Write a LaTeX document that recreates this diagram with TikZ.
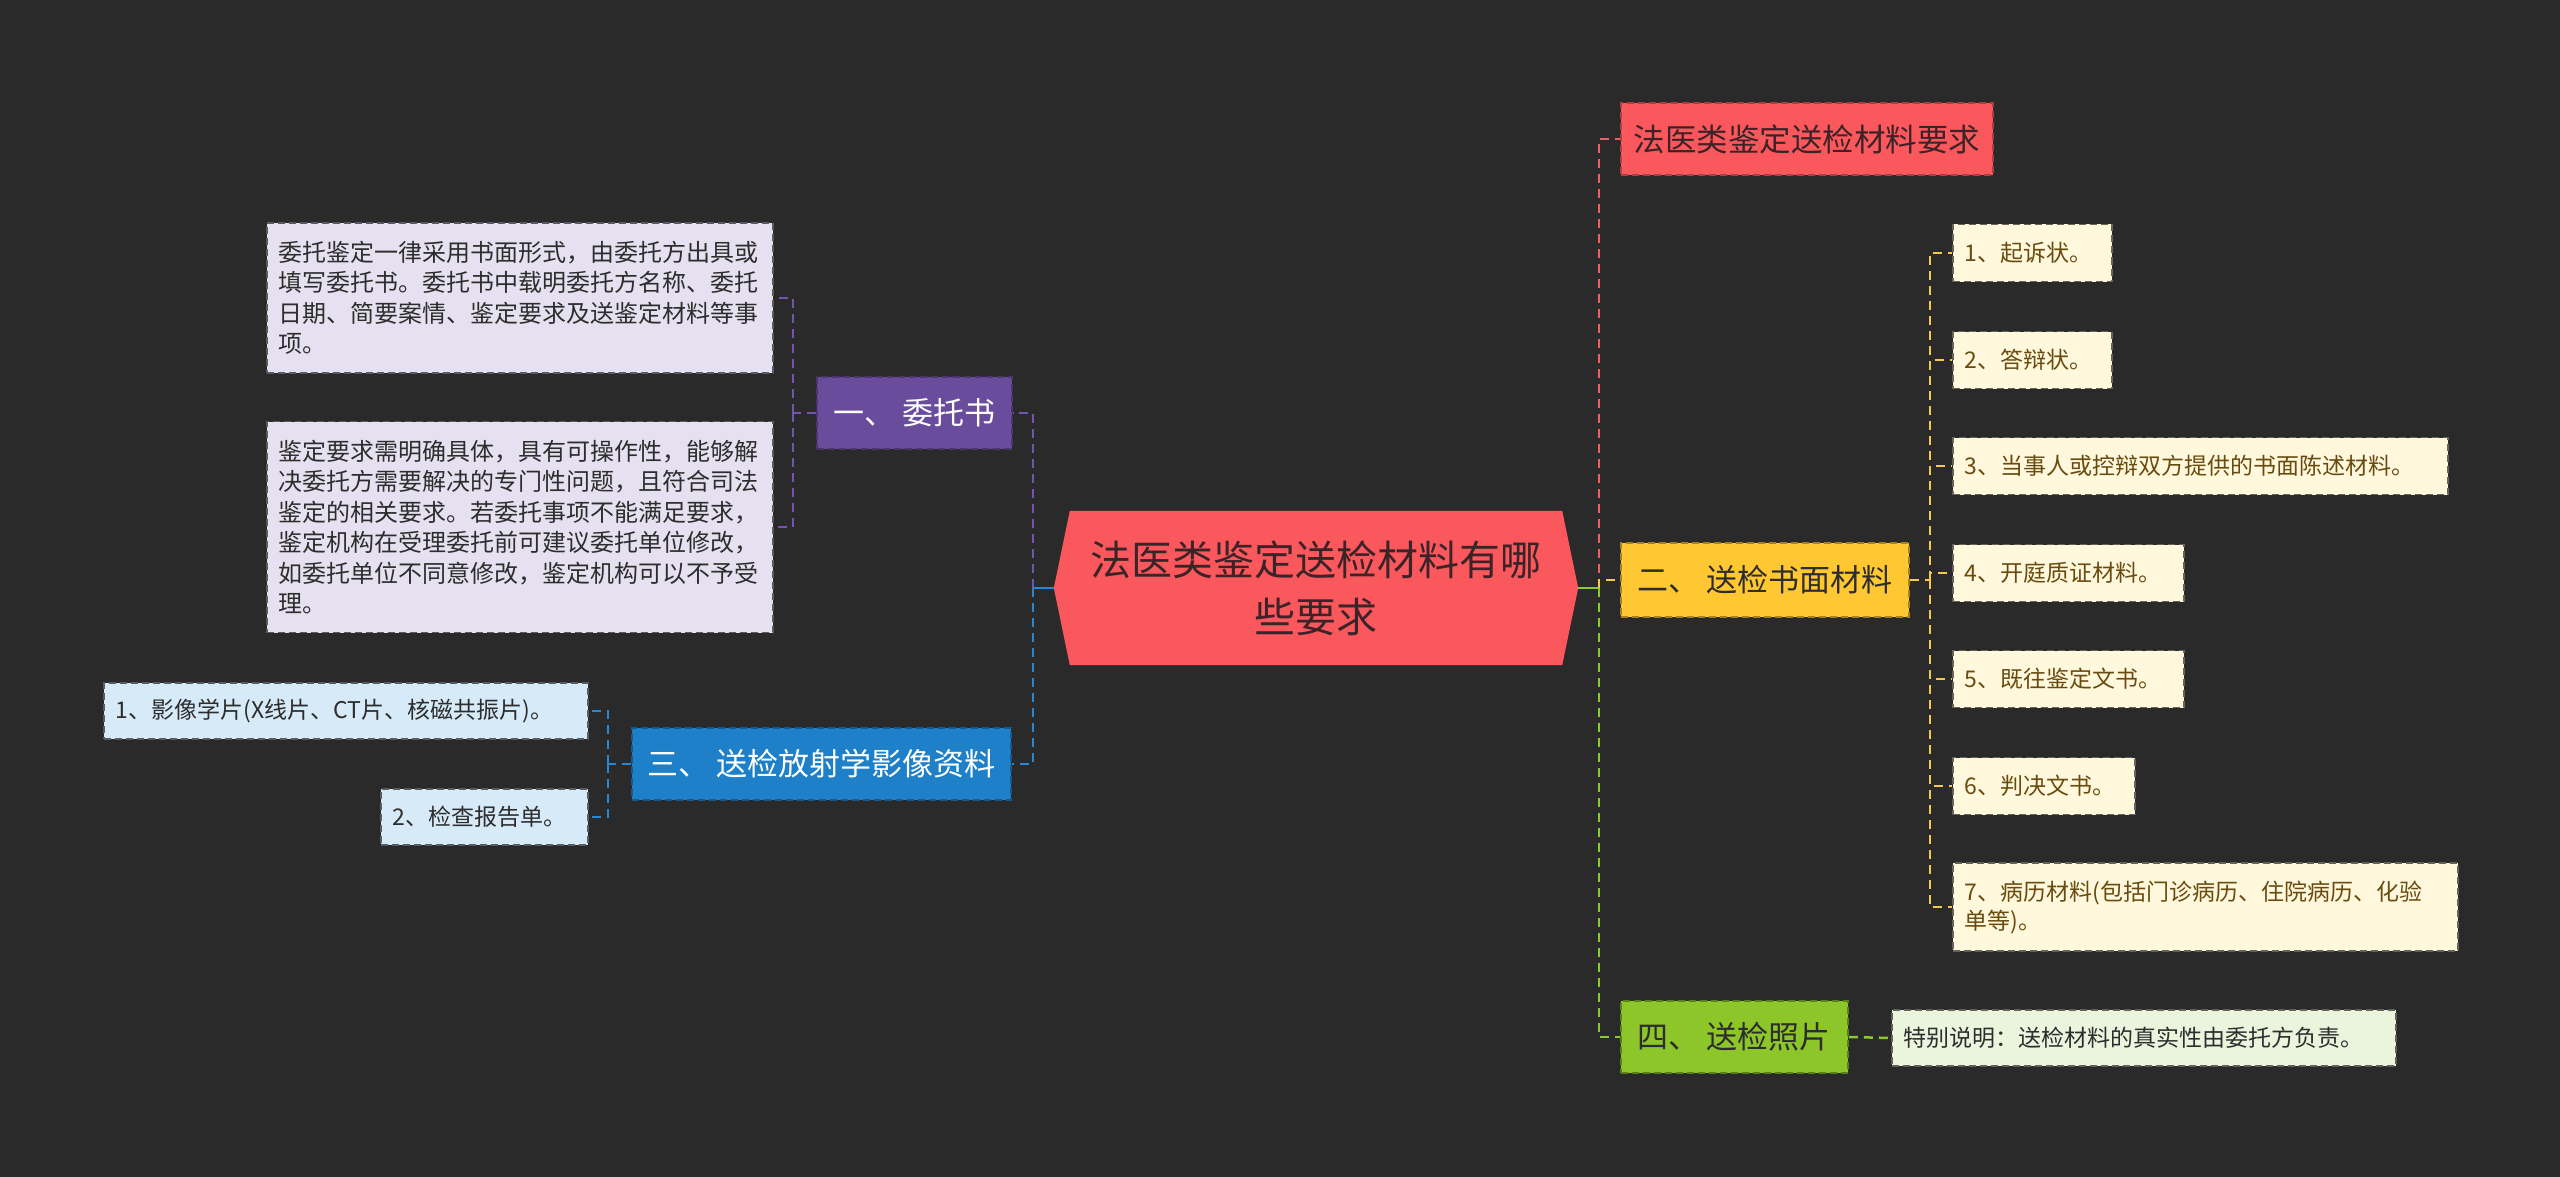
\documentclass[tikz,border=0pt]{standalone}
\usepackage{fontspec}
\setmainfont{Noto Sans CJK SC}
\usetikzlibrary{backgrounds}
\definecolor{bg}{RGB}{42,42,42}
\definecolor{cred}{RGB}{250,88,92}
\definecolor{ctext}{RGB}{60,35,40}
\definecolor{cyel}{RGB}{255,200,50}
\definecolor{cgreen}{RGB}{140,198,40}
\definecolor{cpurp}{RGB}{106,76,156}
\definecolor{cblue}{RGB}{30,128,200}
\definecolor{ccream}{RGB}{255,248,220}
\definecolor{clgreen}{RGB}{235,245,222}
\definecolor{clav}{RGB}{230,225,240}
\definecolor{clblue}{RGB}{214,234,248}
\definecolor{brown}{RGB}{105,75,15}
\definecolor{dtext}{RGB}{45,45,45}
\definecolor{lred}{RGB}{235,95,105}
\definecolor{lyel}{RGB}{245,200,80}
\definecolor{lgreen}{RGB}{140,200,50}
\definecolor{lpurp}{RGB}{115,85,175}
\definecolor{lblue}{RGB}{40,135,210}
\begin{document}
\begin{tikzpicture}[x=1pt,y=-1pt,
  box/.style={draw, dash pattern=on 7pt off 4pt, line width=1.8pt, inner sep=0pt, anchor=west},
  lvl/.style={box, align=center, font=\fontsize{31pt}{38pt}\selectfont},
  leaf/.style={box, align=left, inner xsep=12pt, font=\fontsize{23pt}{29pt}\selectfont},
  lleaf/.style={box, align=left, inner xsep=12pt, font=\fontsize{24pt}{30.5pt}\selectfont},
  conn/.style={line width=2.5pt, dash pattern=on 9pt off 6pt},
  solidc/.style={line width=2.5pt}
]
\useasboundingbox (0,0) rectangle (2560,1177);

% central node
\node[minimum width=524pt, minimum height=154pt, inner sep=0pt, align=center, text=ctext,
  font=\fontsize{41pt}{57pt}\selectfont] (c) at (1316,588) {法医类鉴定送检材料有哪\\些要求};
\begin{scope}[on background layer]
\fill[bg] (0,0) rectangle (2560,1177);
\fill[cred] (c.west) -- ([xshift=16pt]c.north west) -- ([xshift=-16pt]c.north east) -- (c.east)
  -- ([xshift=-16pt]c.south east) -- ([xshift=16pt]c.south west) -- cycle;
\end{scope}

% right level 1
\node[lvl, fill=cred, draw=cred!70!black, text=ctext, minimum width=372pt, minimum height=72pt,
  font=\fontsize{31.5pt}{38pt}\selectfont] (r1) at (1620,139) {法医类鉴定送检材料要求};
\node[lvl, fill=cyel, draw=cyel!65!black, text=dtext, minimum width=288pt, minimum height=74pt] (r2) at (1620,580) {二、 送检书面材料};
\node[lvl, fill=cgreen, draw=cgreen!65!black, text=dtext, minimum width=227pt, minimum height=72pt] (r4) at (1620,1037) {四、 送检照片};

% yellow items
\tikzset{yitem/.style={leaf, fill=ccream, draw=ccream!40!black, text=brown, minimum height=57pt}}
\node[yitem, text width=135pt] (y1) at (1952,253) {1、起诉状。};
\node[yitem, text width=135pt] (y2) at (1952,360) {2、答辩状。};
\node[yitem, text width=471pt] (y3) at (1952,466) {3、当事人或控辩双方提供的书面陈述材料。};
\node[yitem, text width=207pt] (y4) at (1952,573) {4、开庭质证材料。};
\node[yitem, text width=207pt] (y5) at (1952,679) {5、既往鉴定文书。};
\node[yitem, text width=158pt] (y6) at (1952,786) {6、判决文书。};
\node[yitem, text width=481pt, minimum height=88pt] (y7) at (1952,907) {7、病历材料(包括门诊病历、住院病历、化验\\单等)。};

% green item
\node[leaf, fill=clgreen, draw=clgreen!40!black, text=dtext, text width=480pt, minimum height=56pt] (g1) at (1891,1038) {特别说明：送检材料的真实性由委托方负责。};

% left level 1
\node[lvl, fill=cpurp, draw=cpurp!70!black, text=white, minimum width=195pt, minimum height=72pt] (l1) at (816,413) {一、 委托书};
\node[lvl, fill=cblue, draw=cblue!70!black, text=white, minimum width=379pt, minimum height=72pt] (l3) at (631,764) {三、 送检放射学影像资料};

% purple leaves
\tikzset{pitem/.style={lleaf, fill=clav, draw=clav!40!black, text=dtext, text width=482pt}}
\node[pitem, minimum height=150pt] (pa) at (266,298) {委托鉴定一律采用书面形式，由委托方出具或\\填写委托书。委托书中载明委托方名称、委托\\日期、简要案情、鉴定要求及送鉴定材料等事\\项。};
\node[pitem, minimum height=211pt] (pb) at (266,527) {鉴定要求需明确具体，具有可操作性，能够解\\决委托方需要解决的专门性问题，且符合司法\\鉴定的相关要求。若委托事项不能满足要求，\\鉴定机构在受理委托前可建议委托单位修改，\\如委托单位不同意修改，鉴定机构可以不予受\\理。};

% blue leaves
\tikzset{bitem/.style={leaf, fill=clblue, draw=clblue!40!black, text=dtext, minimum height=56pt}}
\node[bitem, text width=460pt] (b1) at (103,711) {1、影像学片(X线片、CT片、核磁共振片)。};
\node[bitem, text width=183pt] (b2) at (380,817) {2、检查报告单。};

% right connectors
\coordinate (rj) at (1599,588);
\draw[solidc, lgreen] (c.east) -- (rj);
\draw[conn, lred] (rj) |- (r1.west);
\draw[conn, lyel] (rj) |- (r2.west);
\draw[conn, lgreen] (rj) |- (r4.west);
\coordinate (yj) at (1930,580);
\draw[conn, lyel] (r2.east) -- (yj);
\foreach \i in {1,...,7} {\draw[conn, lyel] (yj) |- (y\i.west);}
\draw[conn, lgreen] (r4.east) -- (g1.west);

% left connectors
\coordinate (lj) at (1033,588);
\draw[solidc, lblue] (c.west) -- (lj);
\draw[conn, lpurp] (lj) |- (l1.east);
\draw[conn, lblue] (lj) |- (l3.east);
\coordinate (pj) at (793,413);
\draw[conn, lpurp] (l1.west) -- (pj);
\draw[conn, lpurp] (pj) |- (pa.east);
\draw[conn, lpurp] (pj) |- (pb.east);
\coordinate (bj) at (608,764);
\draw[conn, lblue] (l3.west) -- (bj);
\draw[conn, lblue] (bj) |- (b1.east);
\draw[conn, lblue] (bj) |- (b2.east);
\end{tikzpicture}
\end{document}
